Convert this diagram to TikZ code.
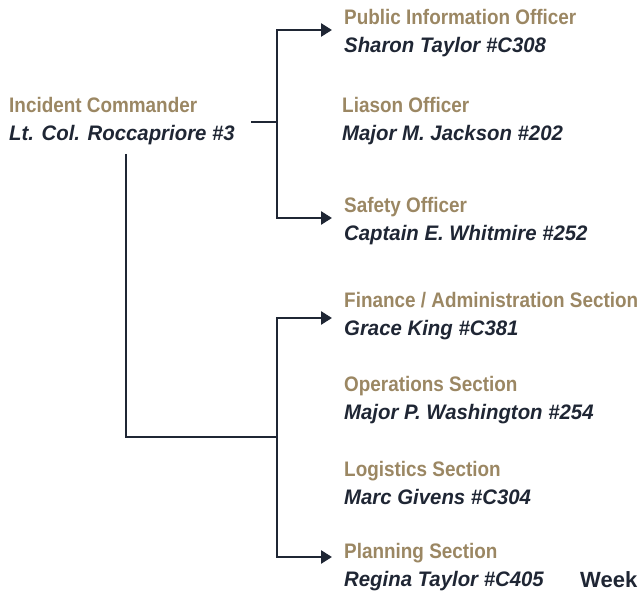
\documentclass[tikz,border=0pt]{standalone}
\usepackage{fontspec}
\setmainfont{Liberation Sans}
\newfontfamily\titlefont{Liberation Sans}[FakeStretch=0.9]
\newfontfamily\namefont{Liberation Sans}[FakeStretch=0.97]
\usepackage{xcolor}
\usepackage{tikz}
\usetikzlibrary{positioning,calc,arrows.meta}

\definecolor{tan}{HTML}{9B8763}
\definecolor{navy}{HTML}{1F2634}

\newcommand{\post}[2]{{\titlefont\color{tan}#1}\\{\namefont\itshape #2}}

\begin{document}
\begin{tikzpicture}[x=1pt,y=-1pt]

\tikzstyle{role}=[anchor=west, inner sep=0pt, align=left, text=navy,
  font=\fontsize{21}{28}\selectfont\bfseries]
\tikzstyle{link}=[draw=navy, line width=2.6pt]
\tikzstyle{branch}=[link, -{Triangle[length=11pt,width=13pt]}, shorten >=12pt]

\useasboundingbox (0,0) rectangle (639,593);

%placement des noeuds
\node[role] (ic) at (9,121) {\post{Incident Commander}{Lt. Col. Roccapriore \#3}};
\node[role] (pio) at (344,33) {\post{Public Information Officer}{Sharon Taylor \#C308}};
\node[role] (liaison) at (342,121) {\post{Liason Officer}{Major M. Jackson \#202}};
\node[role] (safety) at (344,221) {\post{Safety Officer}{Captain E. Whitmire \#252}};
\node[role] (finance) at (344,316) {\post{Finance / Administration Section}{Grace King \#C381}};
\node[role] (ops) at (344,400) {\post{Operations Section}{Major P. Washington \#254}};
\node[role] (logistics) at (344,483) {\post{Logistics Section}{Marc Givens \#C304}};
\node[role] (planning) at (344,567) {\post{Planning Section}{Regina Taylor \#C405}};
\node[anchor=base west, inner sep=0pt, text=navy, font=\fontsize{22}{26}\selectfont\bfseries] (week) at (580,587) {Week};

\coordinate (topbus) at (277,122);
\coordinate (lowbus) at (277,437);

%Placement des fleches
\draw[link] (topbus -| ic.east) ++(16,0) -- (topbus);
\draw[branch] (topbus) |- ([yshift=3pt]pio.west);
\draw[branch] (topbus) |- ([yshift=3pt]safety.west);
\draw[link] ([xshift=4pt,yshift=-9pt]ic.south) |- (lowbus);
\draw[branch] (lowbus) |- ([yshift=-2pt]finance.west);
\draw[branch] (lowbus) |- ([yshift=10pt]planning.west);
\end{tikzpicture}
\end{document}
